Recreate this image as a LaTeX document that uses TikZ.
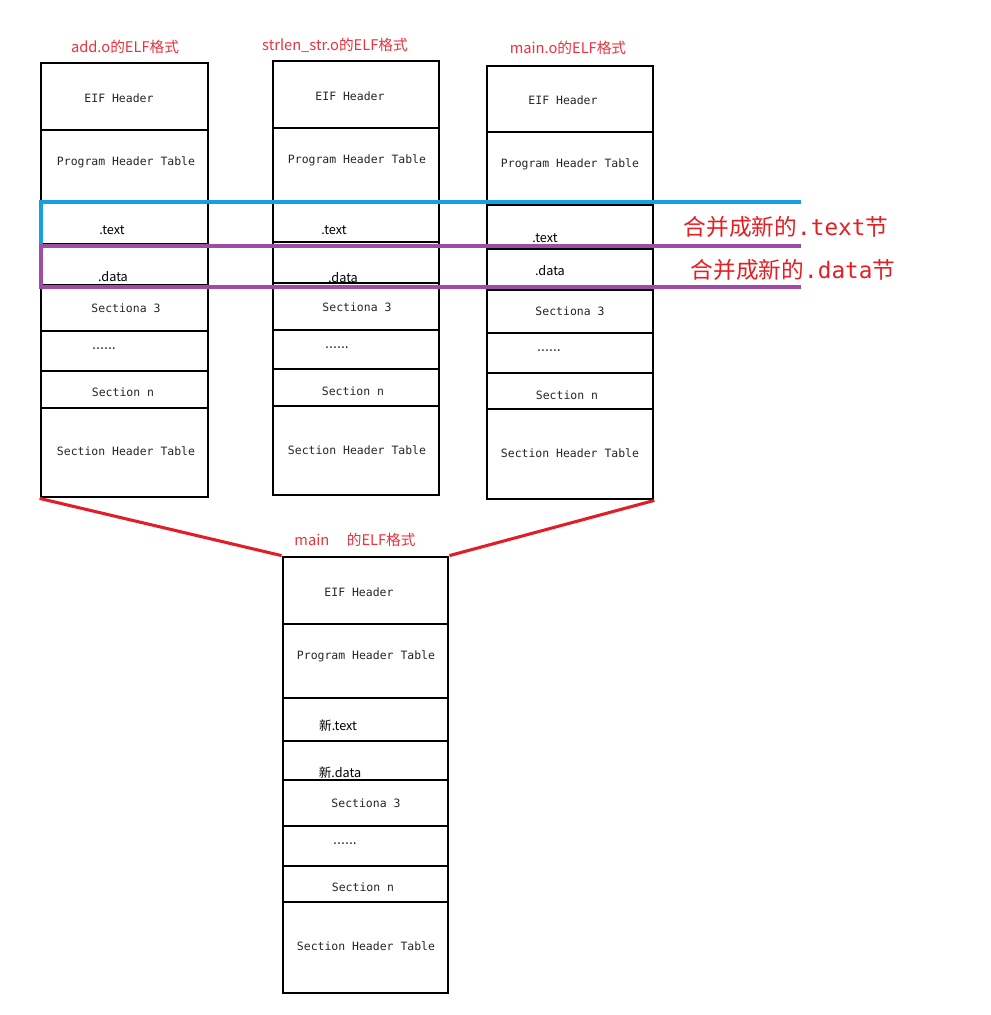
\documentclass[tikz,border=0pt]{standalone}
\usepackage{fontspec}
\newfontfamily\cjk{Noto Sans CJK SC}
\newfontfamily\mono{DejaVu Sans Mono}
\usetikzlibrary{fit}
\definecolor{titlered}{RGB}{235,50,60}
\definecolor{mergered}{RGB}{230,30,35}
\definecolor{linered}{RGB}{225,30,40}
\definecolor{mblue}{RGB}{20,160,225}
\definecolor{mpurple}{RGB}{160,75,165}
\tikzset{
  outline/.style={draw, line width=2.1pt, inner sep=0pt},
  rowline/.style={line width=1.4pt},
  mtxt/.style={font=\mono\fontsize{8.6}{10}\selectfont, inner sep=0pt, text=black!85},
  stxt/.style={font=\cjk\fontsize{9.5}{11}\selectfont, inner sep=0pt},
  boxtitle/.style={font=\cjk\fontsize{11}{13}\selectfont, text=titlered, inner sep=0pt},
  merge/.style={font=\fontsize{17}{20}\selectfont, text=mergered, inner sep=0pt},
  redline/.style={draw=linered, line width=2.3pt},
  blueline/.style={draw=mblue, line width=3pt},
  purpleline/.style={draw=mpurple, line width=3pt}
}
\newcommand{\mydots}{.\kern-2.2pt.\kern-2.2pt.\kern-2.2pt.\kern-2.2pt.\kern-2.2pt.}
\begin{document}
\begin{tikzpicture}[x=0.75pt,y=-0.75pt]
\useasboundingbox (0,0) rectangle (991,1015);
\fill[white] (0,0) rectangle (991,1015);

% ---------- box 1: add.o ----------
\coordinate (b1nw) at (41,63); \coordinate (b1se) at (208,497);
\node[fit=(b1nw)(b1se), outline] (b1) {};
\foreach \y in {130,201,244,285,331,371,408} \draw[rowline] (41,\y) -- (208,\y);
\node[boxtitle] (l1) at (125,47) {add.o的ELF格式};
\node[mtxt] (b1a) at (119,98) {EIF Header};
\node[mtxt] (b1b) at (126,162) {Program Header Table};
\node[stxt] (b1c) at (112,230) {.text};
\node[stxt] (b1d) at (113,277) {.data};
\node[mtxt] (b1e) at (126,308) {Sectiona 3};
\node[mtxt] (b1f) at (104,349) {\mydots};
\node[mtxt] (b1g) at (123,392) {Section n};
\node[mtxt] (b1h) at (126,451) {Section Header Table};

% ---------- box 2: strlen_str.o ----------
\coordinate (b2nw) at (273,61); \coordinate (b2se) at (439,495);
\node[fit=(b2nw)(b2se), outline] (b2) {};
\foreach \y in {128,201,242,283,330,369,406} \draw[rowline] (273,\y) -- (439,\y);
\node[boxtitle] (l2) at (335,45) {strlen\_str.o的ELF格式};
\node[mtxt] (b2a) at (350,96) {EIF Header};
\node[mtxt] (b2b) at (357,160) {Program Header Table};
\node[stxt] (b2c) at (334,230) {.text};
\node[stxt] (b2d) at (343,278) {.data};
\node[mtxt] (b2e) at (357,307) {Sectiona 3};
\node[mtxt] (b2f) at (337,348) {\mydots};
\node[mtxt] (b2g) at (353,391) {Section n};
\node[mtxt] (b2h) at (357,450) {Section Header Table};

% ---------- box 3: main.o ----------
\coordinate (b3nw) at (487,66); \coordinate (b3se) at (653,499);
\node[fit=(b3nw)(b3se), outline] (b3) {};
\foreach \y in {132,205,249,290,333,373,409} \draw[rowline] (487,\y) -- (653,\y);
\node[boxtitle] (l3) at (568,48) {main.o的ELF格式};
\node[mtxt] (b3a) at (563,100) {EIF Header};
\node[mtxt] (b3b) at (570,164) {Program Header Table};
\node[stxt] (b3c) at (545,238) {.text};
\node[stxt] (b3d) at (550,271) {.data};
\node[mtxt] (b3e) at (570,311) {Sectiona 3};
\node[mtxt] (b3f) at (549,351) {\mydots};
\node[mtxt] (b3g) at (567,395) {Section n};
\node[mtxt] (b3h) at (570,453) {Section Header Table};

% ---------- box 4: main ----------
\coordinate (b4nw) at (283,557); \coordinate (b4se) at (448,993);
\node[fit=(b4nw)(b4se), outline] (b4) {};
\foreach \y in {624,698,741,780,826,866,902} \draw[rowline] (283,\y) -- (448,\y);
\node[boxtitle] (l4) at (355,540) {main\hspace{1.2em}的ELF格式};
\node[mtxt] (b4a) at (359,592) {EIF Header};
\node[mtxt] (b4b) at (366,656) {Program Header Table};
\node[stxt] (b4c) at (338,726) {新.text};
\node[stxt] (b4d) at (340,773) {新.data};
\node[mtxt] (b4e) at (366,803) {Sectiona 3};
\node[mtxt] (b4f) at (345,844) {\mydots};
\node[mtxt] (b4g) at (363,887) {Section n};
\node[mtxt] (b4h) at (366,946) {Section Header Table};

% ---------- red connectors ----------
\draw[redline] (b1.south west) -- (b4.north west);
\draw[redline] (b3.south east) -- (b4.north east);

% ---------- merge bands ----------
\coordinate (bl) at (801,202);
\coordinate (pl1) at (801,246);
\coordinate (pl2) at (801,287);
\draw[blueline] (bl) -- (41,202) -- (41,245);
\draw[purpleline] (pl1) -- (41,246) -- (41,287) -- (pl2);

\node[merge] (m1) at (786,227) {\cjk 合并成新的\mono .text\cjk 节};
\node[merge] (m2) at (793,270) {\cjk 合并成新的\mono .data\cjk 节};
\end{tikzpicture}
\end{document}
